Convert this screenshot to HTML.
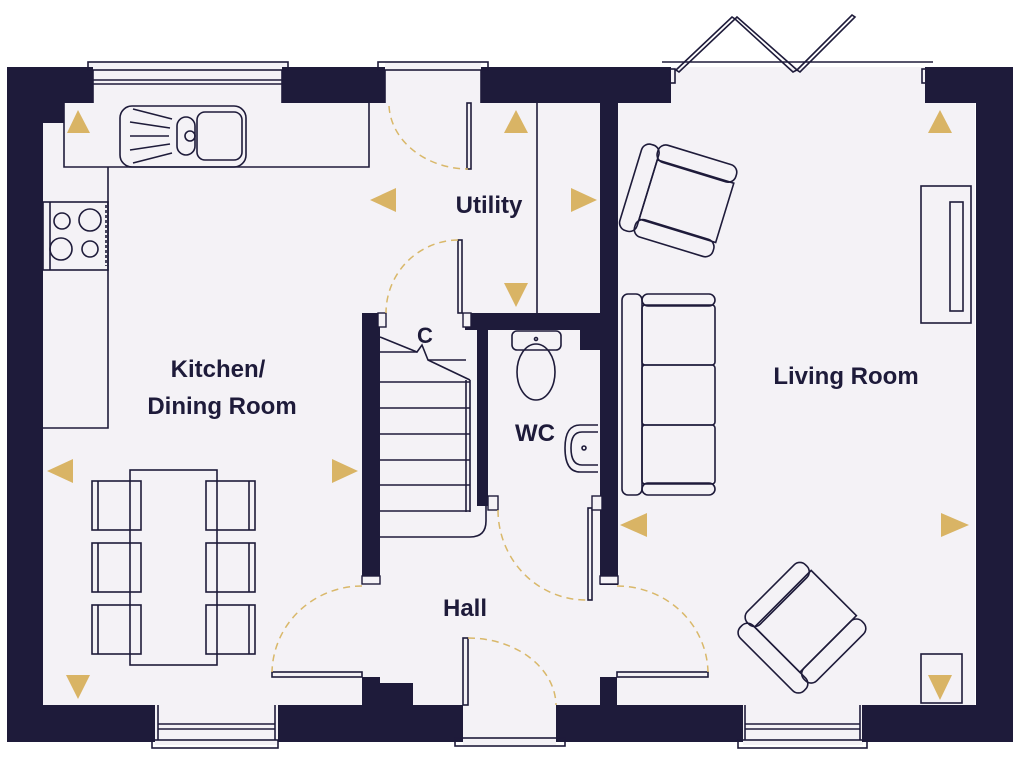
<!DOCTYPE html>
<html><head><meta charset="utf-8"><style>
html,body{margin:0;padding:0;background:#fff;}
svg{display:block;}
text{font-family:"Liberation Sans",sans-serif;font-weight:bold;fill:#1e1b3a;}
</style></head><body>
<svg width="1024" height="768" viewBox="0 0 1024 768" xmlns="http://www.w3.org/2000/svg">
<rect width="1024" height="768" fill="#fff"/>
<rect x="43" y="103" width="932" height="602" fill="#f4f2f6"/>
<rect x="88" y="62" width="200" height="41" fill="#f4f2f6"/>
<rect x="385" y="62" width="96" height="41" fill="#f4f2f6"/>
<rect x="671" y="67" width="254" height="36" fill="#f4f2f6"/>
<rect x="155" y="705" width="123" height="40" fill="#f4f2f6"/>
<rect x="463" y="705" width="93" height="40" fill="#f4f2f6"/>
<rect x="743" y="705" width="120" height="40" fill="#f4f2f6"/>
<g fill="#1e1b3a">
<rect x="7" y="67" width="36" height="675"/>
<rect x="7" y="67" width="86" height="36"/>
<rect x="43" y="100" width="21" height="23"/>
<rect x="282" y="67" width="103" height="36"/>
<rect x="481" y="67" width="190" height="36"/>
<rect x="925" y="67" width="88" height="36"/>
<rect x="976" y="67" width="37" height="675"/>
<rect x="7" y="705" width="148" height="37"/>
<rect x="278" y="705" width="185" height="37"/>
<rect x="362" y="683" width="51" height="24"/>
<rect x="362" y="677" width="18" height="8"/>
<rect x="556" y="705" width="187" height="37"/>
<rect x="600" y="677" width="17" height="30"/>
<rect x="862" y="705" width="151" height="37"/>
<rect x="600" y="100" width="18" height="485"/>
<rect x="465" y="313" width="153" height="17"/>
<rect x="580" y="328" width="22" height="22"/>
<rect x="362" y="313" width="18" height="270"/>
<rect x="477" y="313" width="11" height="193"/>
</g>
<g fill="none" stroke="#1e1b3a" stroke-width="1.6">
<rect x="88" y="62" width="200" height="8"/>
<line x1="93" y1="80" x2="282" y2="80"/><line x1="93" y1="84" x2="282" y2="84"/>
<line x1="93" y1="70" x2="93" y2="103"/><line x1="282" y1="70" x2="282" y2="103"/>
<rect x="378" y="62" width="110" height="8"/>
<line x1="385" y1="70" x2="385" y2="103"/><line x1="481" y1="70" x2="481" y2="103"/>
<line x1="662" y1="62" x2="933" y2="62"/>
<rect x="670" y="69" width="5" height="14"/><rect x="922" y="69" width="5" height="14"/>
<path d="M676 70 L732 17 L735 19 L679 72 Z"/>
<path d="M737 17 L797 70 L793 72 L735 19 Z"/>
<path d="M797 70 L852 15 L855 17 L800 72 Z"/>
<rect x="152" y="740" width="126" height="8"/>
<line x1="158" y1="724" x2="275" y2="724"/><line x1="158" y1="729" x2="275" y2="729"/>
<line x1="158" y1="705" x2="158" y2="740"/><line x1="275" y1="705" x2="275" y2="740"/>
<rect x="738" y="740" width="129" height="8"/>
<line x1="745" y1="724" x2="860" y2="724"/><line x1="745" y1="729" x2="860" y2="729"/>
<line x1="745" y1="705" x2="745" y2="740"/><line x1="860" y1="705" x2="860" y2="740"/>
<rect x="455" y="738" width="110" height="8"/>
<path d="M64 103 V167 H369 V103"/>
<path d="M108 167 V428 H43"/>
<rect x="120" y="106" width="126" height="61" rx="12"/>
<rect x="197" y="112" width="45" height="48" rx="8"/>
<rect x="177" y="117" width="18" height="38" rx="9"/>
<circle cx="190" cy="136" r="5"/>
<path d="M133 109 L172 119 M130 122 L170 128 M130 136 L169 136 M130 150 L170 144 M133 163 L172 153"/>
<rect x="43" y="202" width="65" height="68"/>
<line x1="50" y1="202" x2="50" y2="270"/>
<circle cx="62" cy="221" r="8"/><circle cx="90" cy="220" r="11"/>
<circle cx="61" cy="249" r="11"/><circle cx="90" cy="249" r="8"/>
<line x1="106" y1="205" x2="106" y2="266" stroke-dasharray="3 2"/>
<rect x="130" y="470" width="87" height="195"/>
<rect x="92" y="481" width="49" height="49"/><line x1="98" y1="481" x2="98" y2="530"/>
<rect x="92" y="543" width="49" height="49"/><line x1="98" y1="543" x2="98" y2="592"/>
<rect x="92" y="605" width="49" height="49"/><line x1="98" y1="605" x2="98" y2="654"/>
<rect x="206" y="481" width="49" height="49"/><line x1="249" y1="481" x2="249" y2="530"/>
<rect x="206" y="543" width="49" height="49"/><line x1="249" y1="543" x2="249" y2="592"/>
<rect x="206" y="605" width="49" height="49"/><line x1="249" y1="605" x2="249" y2="654"/>
<line x1="537" y1="103" x2="537" y2="313"/>
<rect x="467" y="103" width="4" height="66"/>
<rect x="458" y="240" width="4" height="73"/>
<path d="M380 337 L417 352 L422 345 L428 360 L470 380"/>
<line x1="466" y1="380" x2="466" y2="512"/><line x1="470" y1="380" x2="470" y2="512"/>
<path d="M380 352 L417 352 M428 360 L466 360"/>
<line x1="380" y1="382" x2="470" y2="382"/>
<line x1="380" y1="408" x2="470" y2="408"/>
<line x1="380" y1="434" x2="470" y2="434"/>
<line x1="380" y1="460" x2="470" y2="460"/>
<line x1="380" y1="485" x2="470" y2="485"/>
<line x1="380" y1="511" x2="470" y2="511"/>
<path d="M380 537 H470 Q486 537 486 521 V506"/>
<rect x="512" y="331" width="49" height="19" rx="5"/>
<ellipse cx="536" cy="372" rx="19" ry="28"/>
<circle cx="536" cy="339" r="1.5"/>
<path d="M598 425 H580 Q565 425 565 448 Q565 472 580 472 H598"/>
<path d="M598 432 H582 Q571 432 571 448 Q571 465 582 465 H598"/>
<circle cx="584" cy="448" r="2"/>
<rect x="588" y="508" width="4" height="92"/>
<rect x="272" y="672" width="90" height="5"/>
<rect x="617" y="672" width="91" height="5"/>
<rect x="463" y="638" width="5" height="67"/>
<g transform="translate(680 195) rotate(17)">
<rect x="-50" y="-40" width="18" height="90" rx="8"/>
<rect x="-34" y="-44" width="82" height="18" rx="8"/>
<rect x="-34" y="34" width="82" height="18" rx="8"/>
<rect x="-32" y="-27" width="80" height="62"/>
</g>
<rect x="622" y="294" width="20" height="201" rx="6"/>
<rect x="642" y="294" width="73" height="12" rx="6"/>
<rect x="642" y="483" width="73" height="12" rx="6"/>
<rect x="642" y="305" width="73" height="60" rx="3"/>
<rect x="642" y="365" width="73" height="60" rx="3"/>
<rect x="642" y="425" width="73" height="59" rx="3"/>
<rect x="921" y="186" width="50" height="137"/>
<rect x="950" y="202" width="13" height="109"/>
<g transform="translate(797 627) rotate(-45)">
<rect x="-48" y="-40" width="18" height="90" rx="8"/>
<rect x="-32" y="-46" width="82" height="18" rx="8"/>
<rect x="-32" y="34" width="82" height="18" rx="8"/>
<rect x="-30" y="-30" width="80" height="64"/>
</g>
<rect x="921" y="654" width="41" height="49"/>
</g>
<g fill="#f4f2f6" stroke="#1e1b3a" stroke-width="1.4">
<rect x="378" y="313" width="8" height="14"/>
<rect x="463" y="313" width="8" height="14"/>
<rect x="488" y="496" width="10" height="14"/>
<rect x="592" y="496" width="10" height="14"/>
<rect x="362" y="576" width="18" height="8"/>
<rect x="600" y="576" width="18" height="8"/>
</g>
<g fill="none" stroke="#d9b86a" stroke-width="1.5" stroke-dasharray="7 5">
<path d="M389 106 A80 66 0 0 0 468 169"/>
<path d="M458 240 A73 73 0 0 0 386 313"/>
<path d="M498 510 A88 90 0 0 0 588 600"/>
<path d="M362 586 A90 88 0 0 0 272 672"/>
<path d="M617 586 A91 88 0 0 1 708 672"/>
<path d="M468 638 A88 68 0 0 1 556 705"/>
</g>
<g fill="#d9b465">
<path d="M67 133 L90 133 L78 110 Z"/>
<path d="M47 471 L73 459 L73 483 Z"/>
<path d="M358 471 L332 459 L332 483 Z"/>
<path d="M66 675 L90 675 L78 699 Z"/>
<path d="M370 200 L396 188 L396 212 Z"/>
<path d="M504 133 L528 133 L516 110 Z"/>
<path d="M597 200 L571 188 L571 212 Z"/>
<path d="M504 283 L528 283 L516 307 Z"/>
<path d="M928 133 L952 133 L940 110 Z"/>
<path d="M620 525 L647 513 L647 537 Z"/>
<path d="M969 525 L941 513 L941 537 Z"/>
<path d="M928 675 L952 675 L940 700 Z"/>
</g>
<text x="489" y="213" font-size="24" text-anchor="middle">Utility</text>
<text x="218" y="377" font-size="24" text-anchor="middle">Kitchen/</text>
<text x="222" y="414" font-size="24" text-anchor="middle">Dining Room</text>
<text x="425" y="343" font-size="22" text-anchor="middle">C</text>
<text x="535" y="441" font-size="24" text-anchor="middle">WC</text>
<text x="465" y="616" font-size="24" text-anchor="middle">Hall</text>
<text x="846" y="384" font-size="24" text-anchor="middle">Living Room</text>
</svg>
</body></html>
